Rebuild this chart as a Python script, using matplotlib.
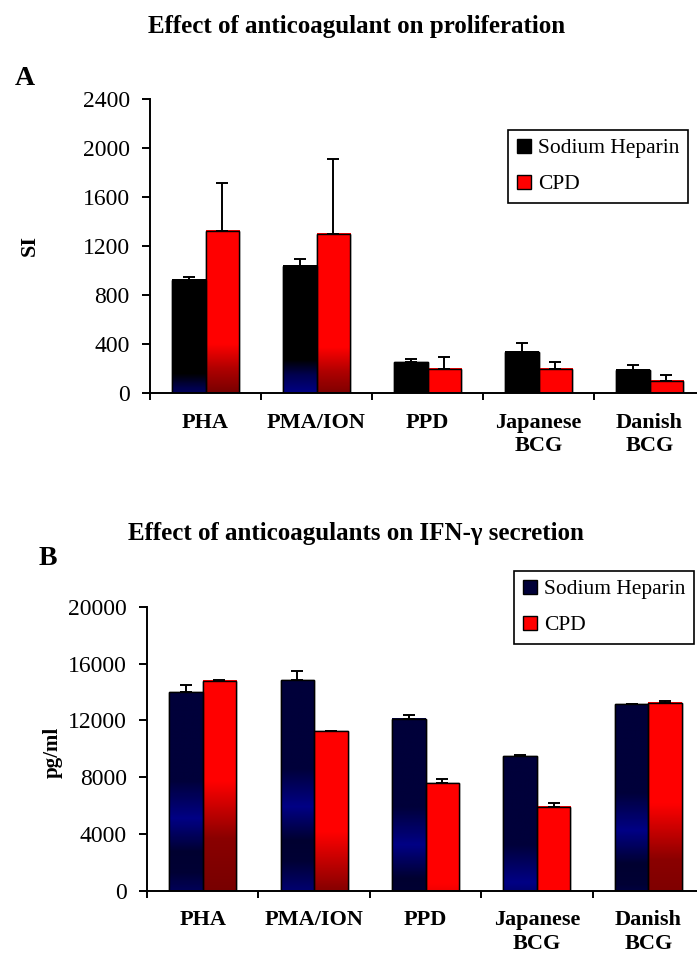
import numpy as np
import matplotlib
matplotlib.use("Agg")
import matplotlib.pyplot as plt
from matplotlib.colors import LinearSegmentedColormap

# ---------------- data ----------------
categories = ["PHA", "PMA/ION", "PPD", "Japanese\nBCG", "Danish\nBCG"]
series_names = ["Sodium Heparin", "CPD"]

si_heparin = [925, 1039, 253, 335, 188]
si_heparin_err = [22, 55, 25, 73, 41]
si_cpd = [1325, 1298, 199, 199, 101]
si_cpd_err = [390, 612, 98, 57, 46]

ifn_heparin = [13974, 14818, 12122, 9472, 13130]
ifn_heparin_err = [515, 655, 280, 100, 0]
ifn_cpd = [14795, 11254, 7597, 5932, 13247]
ifn_cpd_err = [30, 30, 280, 258, 117]

si_ticks = [0, 400, 800, 1200, 1600, 2000, 2400]
ifn_ticks = [0, 4000, 8000, 12000, 16000, 20000]

# ---------------- style ----------------
plt.rcParams["font.family"] = ["Liberation Serif", "DejaVu Serif"]

W, H = 697, 959
fig = plt.figure(figsize=(W / 100, H / 100), dpi=100)

cmap_a_sh = LinearSegmentedColormap.from_list(
    "a_sh", [(0, "#000000"), (0.74, "#000000"), (0.86, "#000050"), (1, "#000085")])
cmap_a_cpd = LinearSegmentedColormap.from_list(
    "a_cpd", [(0, "#ff0000"), (0.70, "#ff0000"), (0.85, "#b00000"), (1, "#780000")])
cmap_b_sh = LinearSegmentedColormap.from_list(
    "b_sh", [(0, "#00003a"), (0.42, "#00003a"), (0.60, "#000085"), (0.76, "#000030"),
             (0.86, "#000035"), (1, "#000070")])
cmap_b_cpd = LinearSegmentedColormap.from_list(
    "b_cpd", [(0, "#ff0000"), (0.48, "#ff0000"), (0.75, "#8a0000"), (1, "#780000")])


def gradient_bars(ax, bars, cmap, span):
    for rect in bars:
        x0 = rect.get_x()
        w = rect.get_width()
        h = rect.get_height()
        if h <= 0:
            continue
        y = np.linspace(0, h, 256)
        t = np.clip((h - y) / span, 0, 1)
        img = cmap(t)[:, None, :]
        ax.imshow(img, extent=(x0, x0 + w, 0, h), origin="lower", aspect="auto",
                  interpolation="bilinear", zorder=2)


def panel(rect_px, sh, sh_err, cpd, cpd_err, sh_color, cmap_sh, cmap_cpd,
          ticks, legend_px):
    left, top, right, bottom = rect_px
    ax = fig.add_axes([left / W, 1 - bottom / H, (right - left) / W, (bottom - top) / H])
    x = np.arange(len(categories))
    bw = 0.3
    b1 = ax.bar(x - bw / 2, sh, bw, color=sh_color, edgecolor="black", linewidth=1.0,
                label=series_names[0], zorder=1)
    b2 = ax.bar(x + bw / 2, cpd, bw, color="#ff0000", edgecolor="black", linewidth=1.0,
                label=series_names[1], zorder=1)
    gradient_bars(ax, b1, cmap_sh, max(sh))
    gradient_bars(ax, b2, cmap_cpd, max(cpd))
    ax.bar(x - bw / 2, sh, bw, fill=False, edgecolor="black", linewidth=1.0, zorder=3)
    ax.bar(x + bw / 2, cpd, bw, fill=False, edgecolor="black", linewidth=1.0, zorder=3)
    zeros = np.zeros(len(categories))
    ax.errorbar(x - bw / 2, sh, yerr=[zeros, sh_err], fmt="none", ecolor="black",
                elinewidth=1.4, capsize=4.3, capthick=1.4, zorder=4)
    ax.errorbar(x + bw / 2, cpd, yerr=[zeros, cpd_err], fmt="none", ecolor="black",
                elinewidth=1.4, capsize=4.3, capthick=1.4, zorder=4)

    ax.set_xlim(-0.5, len(categories) - 0.5)
    ax.set_ylim(ticks[0], ticks[-1])
    ax.set_yticks(ticks)
    ax.set_yticklabels([str(t) for t in ticks])
    ax.set_xticks(x)
    ax.set_xticklabels(categories, fontweight="bold", fontsize=16, linespacing=1.25)
    ax.set_xticks(np.arange(-0.5, len(categories) - 1, 1), minor=True)
    ax.tick_params(axis="x", which="major", length=0, pad=14)
    ax.tick_params(axis="x", which="minor", length=5, width=1.4, direction="out")
    ax.tick_params(axis="y", which="major", length=5.5, width=1.4, direction="out",
                   labelsize=17, pad=9)
    for s in ("top", "right"):
        ax.spines[s].set_visible(False)
    for s in ("left", "bottom"):
        ax.spines[s].set_linewidth(1.4)
    ax.spines["left"].set_zorder(5)
    ax.spines["bottom"].set_zorder(5)

    leg = ax.legend(loc="upper left", bbox_to_anchor=(legend_px[0] / W, 1 - legend_px[1] / H),
                    bbox_transform=fig.transFigure, borderaxespad=0, fontsize=15.5,
                    frameon=True, fancybox=False, edgecolor="black", framealpha=1,
                    handlelength=0.65, handleheight=0.65, handletextpad=0.35,
                    labelspacing=0.75, borderpad=0.4)
    leg.get_frame().set_linewidth(1.2)
    return ax


axA = panel((150, 99.3, 705, 393.3), si_heparin, si_heparin_err, si_cpd, si_cpd_err,
            "#000000", cmap_a_sh, cmap_a_cpd, si_ticks, (508, 130))
axB = panel((147, 606.7, 704, 891), ifn_heparin, ifn_heparin_err, ifn_cpd, ifn_cpd_err,
            "#000038", cmap_b_sh, cmap_b_cpd, ifn_ticks, (514, 571))

fig.text(357 / W, 1 - 33 / H, "Effect of anticoagulant on proliferation", ha="center",
         va="baseline", fontsize=18, fontweight="bold")
fig.text(356 / W, 1 - 540 / H, "Effect of anticoagulants on IFN-\u03b3 secretion", ha="center",
         va="baseline", fontsize=18, fontweight="bold")
fig.text(15 / W, 1 - 85 / H, "A", ha="left", va="baseline", fontsize=20, fontweight="bold")
fig.text(39 / W, 1 - 565 / H, "B", ha="left", va="baseline", fontsize=20, fontweight="bold")
fig.text(30 / W, 1 - 245 / H, "SI", ha="center", va="center", rotation=90, fontsize=16,
         fontweight="bold")
fig.text(53 / W, 1 - 752 / H, "pg/ml", ha="center", va="center", rotation=90, fontsize=15,
         fontweight="bold")

fig.savefig("out.png", dpi=100)
